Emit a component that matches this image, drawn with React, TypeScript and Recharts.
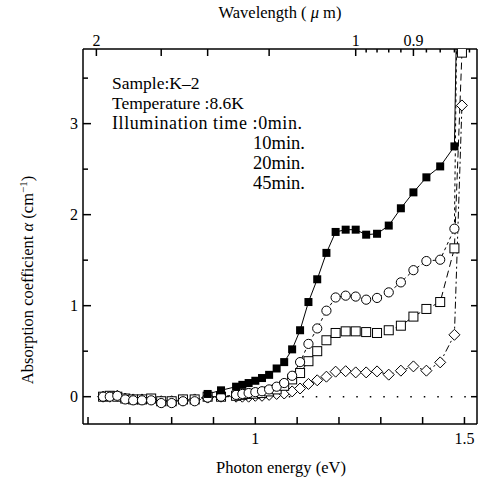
import { LineChart, Line, XAxis, YAxis, ReferenceLine, Customized } from "recharts";

// photon energy (eV) of each measured point
const energy = [
  0.636, 0.652, 0.67, 0.689, 0.708, 0.729, 0.751, 0.775, 0.8, 0.827, 0.855, 0.886, 0.918,
  0.954, 0.969, 0.984, 1.0, 1.016, 1.033, 1.051, 1.069, 1.088, 1.107, 1.127, 1.148, 1.17,
  1.192, 1.216, 1.24, 1.265, 1.291, 1.319, 1.348, 1.378, 1.409, 1.442, 1.476, 1.494,
];

// absorption coefficient (cm^-1) for each illumination time
const alpha0 = [
  null, null, null, null, null, null, null, null, null, null, null, 0.03, 0.07,
  0.11, 0.13, 0.15, 0.175, 0.205, 0.24, 0.31, 0.38, 0.52, 0.73, 1.04, 1.29, 1.58,
  1.81, 1.835, 1.835, 1.78, 1.79, 1.88, 2.07, 2.245, 2.41, 2.53, 2.75, 7.5,
];
const alpha10 = [
  0.0, 0.0, 0.01, -0.03, -0.04, -0.04, -0.04, -0.07, -0.07, -0.05, -0.05, -0.01, 0.0,
  0.02, 0.03, 0.04, 0.05, 0.06, 0.08, 0.11, 0.15, 0.23, 0.38, 0.58, 0.75, 0.945,
  1.09, 1.11, 1.1, 1.066, 1.085, 1.146, 1.256, 1.39, 1.49, 1.505, 1.846, 9.0,
];
const alpha20 = [
  0.0, 0.01, 0.0, -0.02, -0.03, -0.03, -0.02, -0.05, -0.05, -0.03, -0.03, 0.0, 0.0,
  0.01, 0.02, 0.03, 0.033, 0.04, 0.058, 0.08, 0.12, 0.19, 0.26, 0.39, 0.5, 0.62,
  0.7, 0.718, 0.718, 0.71, 0.7, 0.73, 0.78, 0.88, 0.964, 1.04, 1.63, 3.78,
];
const alpha45 = [
  0.0, 0.0, 0.01, -0.02, -0.03, -0.03, -0.03, -0.05, -0.05, -0.04, -0.03, -0.01, 0.0,
  0.0, 0.0, 0.0, 0.01, 0.01, 0.02, 0.03, 0.035, 0.058, 0.09, 0.14, 0.18, 0.22,
  0.275, 0.28, 0.267, 0.267, 0.278, 0.242, 0.286, 0.333, 0.286, 0.377, 0.68, 3.2,
];

const energyTicks = [0.6, 0.7, 0.8, 0.9, 1.0, 1.1, 1.2, 1.3, 1.4, 1.5];
const energyLabels = [1, 1.5];
const alphaTicks = [0, 0.5, 1, 1.5, 2, 2.5, 3, 3.5];
const alphaLabels = [0, 1, 2, 3];
// wavelength ticks on the top axis (um) and where they fall in eV
const wavelengths = [2, 1.6, 1.4, 1.2, 1, 0.98, 0.96, 0.94, 0.92, 0.9, 0.88, 0.86, 0.84, 0.82];
const wavelengthEnergy = [0.62, 0.775, 0.886, 1.033, 1.24, 1.265, 1.291, 1.319, 1.348, 1.378, 1.409, 1.442, 1.476, 1.512];
const wavelengthLabels = [2, 1, 0.9];
const majorWavelengths = [2, 1.6, 1.4, 1.2, 1, 0.9];

const notes = ["Sample:K\u20132", "Temperature :8.6K", "Illumination time :0min."];
const times = ["10min.", "20min.", "45min."];

const data = energy.map((e, i) => ({
  e,
  a0: alpha0[i],
  a10: alpha10[i],
  a20: alpha20[i],
  a45: alpha45[i],
}));

const FONT = "'Liberation Serif', 'Times New Roman', serif";
const near = (a: number, b: number) => Math.abs(a - b) < 1e-6;

const BottomTick = (p: any) => {
  const v = p.payload.value;
  const lab = energyLabels.find((l) => near(l, v));
  return (
    <g>
      <line x1={p.x} x2={p.x} y1={p.y} y2={p.y - 7} stroke="#000" strokeWidth={1.5} />
      {lab !== undefined && (
        <text x={p.x} y={p.y + 20} textAnchor="middle" fontSize={16} fontFamily={FONT} fill="#000">
          {lab}
        </text>
      )}
    </g>
  );
};

const TopTick = (p: any) => {
  const idx = wavelengthEnergy.findIndex((w) => near(w, p.payload.value));
  const wl = wavelengths[idx];
  const major = majorWavelengths.some((m) => near(m, wl));
  const lab = wavelengthLabels.find((l) => near(l, wl));
  return (
    <g>
      <line x1={p.x} x2={p.x} y1={p.y} y2={p.y + (major ? 7 : 3.5)} stroke="#000" strokeWidth={1.5} />
      {lab !== undefined && (
        <text x={p.x} y={p.y - 3} textAnchor="middle" fontSize={16} fontFamily={FONT} fill="#000">
          {lab}
        </text>
      )}
    </g>
  );
};

const LeftTick = (p: any) => {
  const v = p.payload.value;
  const lab = alphaLabels.find((l) => near(l, v));
  return (
    <g>
      <line x1={p.x} x2={p.x + (lab !== undefined ? 8 : 5)} y1={p.y} y2={p.y} stroke="#000" strokeWidth={1.5} />
      {lab !== undefined && (
        <text x={p.x - 5} y={p.y + 5} textAnchor="end" fontSize={16} fontFamily={FONT} fill="#000">
          {lab}
        </text>
      )}
    </g>
  );
};

const RightTick = (p: any) => (
  <line x1={p.x} x2={p.x - 6} y1={p.y} y2={p.y} stroke="#000" strokeWidth={1.5} />
);

const FilledSquare = (p: any) =>
  p.cy == null ? <g key={p.index} /> : (
    <rect key={p.index} x={p.cx - 4} y={p.cy - 4} width={8} height={8} fill="#000" />
  );
const OpenSquare = (p: any) =>
  p.cy == null ? <g key={p.index} /> : (
    <rect key={p.index} x={p.cx - 4.5} y={p.cy - 4.5} width={9} height={9} fill="#fff" stroke="#000" strokeWidth={1} />
  );
const OpenCircle = (p: any) =>
  p.cy == null ? <g key={p.index} /> : (
    <circle key={p.index} cx={p.cx} cy={p.cy} r={4.6} fill="#fff" stroke="#000" strokeWidth={1} />
  );
const OpenDiamond = (p: any) =>
  p.cy == null ? <g key={p.index} /> : (
    <polygon
      key={p.index}
      points={`${p.cx},${p.cy - 5.5} ${p.cx + 5.5},${p.cy} ${p.cx},${p.cy + 5.5} ${p.cx - 5.5},${p.cy}`}
      fill="#fff"
      stroke="#000"
      strokeWidth={1}
    />
  );

const Texts = () => (
  <g fontFamily={FONT} fill="#000">
    <text x={280} y={18} textAnchor="middle" fontSize={16.5}>
      Wavelength ( <tspan fontStyle="italic">μ</tspan> m)
    </text>
    <text x={281} y={473} textAnchor="middle" fontSize={16.5}>
      Photon energy (eV)
    </text>
    <text x={33} y={280} textAnchor="middle" fontSize={16.5} transform="rotate(-90 33 280)">
      Absorption coefficient <tspan fontStyle="italic">α</tspan>  (cm
      <tspan dy={-6} fontSize={11}>−1</tspan>
      <tspan dy={6}>)</tspan>
    </text>
    <text x={112} y={89} fontSize={17.5}>{notes[0]}</text>
    <text x={112} y={109} fontSize={17.5}>{notes[1]}</text>
    <text x={112} y={129} fontSize={18} textLength={190} lengthAdjust="spacing">
      {notes[2]}
    </text>
    {times.map((t, i) => (
      <text key={t} x={253} y={149 + i * 20} fontSize={18.5}>
        {t}
      </text>
    ))}
  </g>
);

export default function App() {
  return (
    <div style={{ position: "absolute", left: 0, top: 0, width: 479, height: 486, background: "#fff" }}>
      <LineChart
        width={479}
        height={486}
        data={data}
        margin={{ top: 0, right: 0, bottom: 0, left: 23 }}
        style={{ fontFamily: FONT }}
      >
        <XAxis
          xAxisId="bottom"
          dataKey="e"
          type="number"
          domain={[0.588, 1.53]}
          allowDataOverflow
          ticks={energyTicks}
          interval={0}
          height={62}
          tickSize={0}
          tickMargin={0}
          tick={BottomTick}
          axisLine={{ stroke: "#000", strokeWidth: 1.5 }}
        />
        <XAxis
          xAxisId="top"
          dataKey="e"
          orientation="top"
          type="number"
          domain={[0.588, 1.53]}
          allowDataOverflow
          ticks={wavelengthEnergy}
          interval={0}
          height={49}
          tickSize={0}
          tickMargin={0}
          tick={TopTick}
          axisLine={{ stroke: "#000", strokeWidth: 1.5 }}
        />
        <YAxis
          yAxisId="left"
          type="number"
          domain={[-0.3, 3.82]}
          allowDataOverflow
          ticks={alphaTicks}
          interval={0}
          width={60}
          tickSize={0}
          tickMargin={0}
          tick={LeftTick}
          axisLine={{ stroke: "#000", strokeWidth: 1.5 }}
        />
        <YAxis
          yAxisId="right"
          orientation="right"
          type="number"
          domain={[-0.3, 3.82]}
          allowDataOverflow
          ticks={alphaTicks}
          interval={0}
          width={2}
          tickSize={0}
          tickMargin={0}
          tick={RightTick}
          axisLine={{ stroke: "#000", strokeWidth: 1.5 }}
        />
        <ReferenceLine
          xAxisId="bottom"
          yAxisId="left"
          segment={[{ x: 1.08, y: 0 }, { x: 1.53, y: 0 }]}
          stroke="#000"
          strokeWidth={1.6}
          strokeDasharray="1.5 12"
        />
        <Line
          xAxisId="bottom"
          yAxisId="left"
          dataKey="a45"
          stroke="#000"
          strokeWidth={1}
          strokeDasharray="7 3 2 3"
          dot={OpenDiamond}
          isAnimationActive={false}
        />
        <Line
          xAxisId="bottom"
          yAxisId="left"
          dataKey="a20"
          stroke="#000"
          strokeWidth={1}
          strokeDasharray="7 4"
          dot={OpenSquare}
          isAnimationActive={false}
        />
        <Line
          xAxisId="bottom"
          yAxisId="left"
          dataKey="a10"
          stroke="#000"
          strokeWidth={1}
          strokeDasharray="3 3"
          dot={OpenCircle}
          isAnimationActive={false}
        />
        <Line
          xAxisId="bottom"
          yAxisId="left"
          dataKey="a0"
          stroke="#000"
          strokeWidth={1}
          dot={FilledSquare}
          isAnimationActive={false}
        />
        <Customized component={Texts} />
      </LineChart>
    </div>
  );
}
